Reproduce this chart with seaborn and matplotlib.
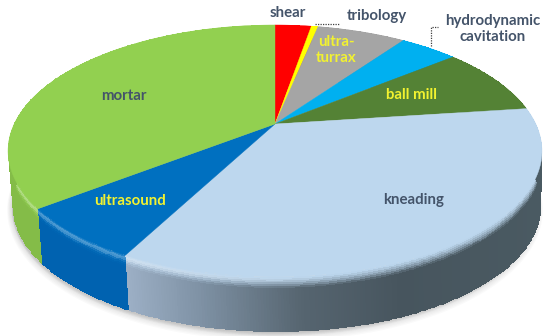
import numpy as np
import seaborn as sns
import matplotlib
matplotlib.use('Agg')
import matplotlib.pyplot as plt
from matplotlib.path import Path
from matplotlib.transforms import Transform
from matplotlib.colors import to_rgb

# Share of each method (%), clockwise from the top
methods = ['shear', 'tribology', 'ultra-turrax', 'hydrodynamic cavitation',
           'ball mill', 'kneading', 'ultrasound', 'mortar']
shares = [2.7, 0.5, 6.6, 4.3, 8.8, 34.8, 6.8, 35.5]
face_colors = ['#ff0000', '#ffff00', '#a5a5a5', '#00b0f0',
               '#548235', '#bdd7ee', '#0070c0', '#92d050']
side_colors = ['#cc0000', '#cccc00', '#808080', '#008cc0',
               '#43682a', '#4a5a64', '#0062b0', '#84bc48']

# Shading along the kneading slice side, left to right
kneading_x = [124, 200, 300, 400, 541]
kneading_side = ['#9db0c6', '#7e91a4', '#566570', '#47555e', '#4a5a62']

# Pie geometry in picture pixels
CX, CY = 275, 124
A, B, K = 260.8, 120.2, 0.214
DEPTH = 55


def project(x, y):
    w = 1 + K * y
    return CX + A * x / w, CY - B * y / w


class Perspective(Transform):
    input_dims = output_dims = 2

    def transform_non_affine(self, values):
        values = np.asarray(values)
        return np.column_stack(project(values[:, 0], values[:, 1]))

    def transform_path_non_affine(self, path):
        points = []
        for curve, code in path.iter_bezier():
            points.append(curve(np.linspace(0, 1, 24)))
        return Path(self.transform_non_affine(np.vstack(points)))


def side_mesh(ax, theta1, theta2, face, side, gradient=False):
    n = max(int((theta2 - theta1) * 2), 2)
    ang = np.radians(np.linspace(theta1, theta2, n + 1))
    depth = np.linspace(0, 1, 31)
    X0, Y0 = project(np.cos(ang), np.sin(ang))
    X = CX + np.outer(1 - 0.01 * depth, X0 - CX) + 2 * depth[:, None]
    Y = np.add.outer(DEPTH * depth, Y0)

    xmid = (X[0, :-1] + X[0, 1:]) / 2
    tmid = (depth[:-1] + depth[1:]) / 2
    if gradient:
        stops = np.array([to_rgb(c) for c in kneading_side])
        base = np.column_stack([np.interp(xmid, kneading_x, stops[:, i]) for i in range(3)])
    else:
        base = np.tile(to_rgb(side), (n, 1))
    top = np.array(to_rgb(face))
    blend = np.clip(tmid / 0.2, 0, 1) ** 1.5
    # bright bevel on the lit (left) part of the rim
    lit = np.clip((330 - xmid) / 200, 0, 1)[:, None]
    rgb = np.zeros((len(tmid), n, 3))
    for i, b in enumerate(blend):
        glow = 0.3 * np.exp(-((tmid[i] - 0.06) / 0.05) ** 2)
        rgb[i] = top * (1 - b) + base * b
        rgb[i] = rgb[i] + (1 - rgb[i]) * glow * lit
    ax.pcolormesh(X, Y, rgb, shading='flat', linewidth=0, zorder=2)


sns.set_theme(style='white')
plt.rcParams['font.family'] = ['Lato', 'DejaVu Sans']

fig, ax = plt.subplots(figsize=(5.5, 3.36), dpi=100)
fig.subplots_adjust(left=0, right=1, top=1, bottom=0)

palette = sns.color_palette(face_colors)
wedges, _ = ax.pie(shares, colors=palette, startangle=90, counterclock=False,
                   wedgeprops={'linewidth': 0.3})
ax.set_aspect('auto')
ax.set_xlim(0, 550)
ax.set_ylim(336, 0)
ax.axis('off')

persp = Perspective()
for w, color in zip(wedges, palette):
    w.set_transform(persp + ax.transData)
    w.set_edgecolor(color)
    w.set_zorder(3)

# soft shadow under the disc
ang = np.radians(np.linspace(0, 360, 361))
sx, sy = project(np.cos(ang), np.sin(ang))
for grow in np.linspace(7, 1, 7):
    ax.fill(CX + (sx - CX) * 0.985, sy + DEPTH + grow * 0.6, color='#808080',
            alpha=0.04, lw=grow, zorder=1)

for w, name, face, side in zip(wedges, methods, face_colors, side_colors):
    side_mesh(ax, w.theta1, w.theta2, face, side, gradient=name == 'kneading')

DARK = '#44546a'
YELLOW = '#f2f230'
label_style = {'ha': 'center', 'va': 'center', 'fontsize': 10.8, 'fontweight': 'bold', 'zorder': 5}
ax.text(288, 13, 'shear', color=DARK, **label_style)
ax.text(377, 16, 'tribology', color=DARK, **label_style)
ax.text(493, 29, 'hydrodynamic\ncavitation', color=DARK, linespacing=1.1, **label_style)
ax.text(336, 50, 'ultra-\nturrax', color=YELLOW, linespacing=1.1, **label_style)
ax.text(411, 95, 'ball mill', color=YELLOW, **label_style)
ax.text(124, 96, 'mortar', color=DARK, **label_style)
ax.text(130, 201, 'ultrasound', color=YELLOW, **label_style)
ax.text(414, 200, 'kneading', color=DARK, **label_style)

# leader lines
ax.plot([315, 340], [24, 24], color='#404040', lw=0.9, ls=(0, (1, 1)), zorder=5)
ax.plot([431, 431, 438], [46, 27, 27], color='#404040', lw=0.9, ls=(0, (1, 1)), zorder=5)

fig.savefig('out.png', dpi=100)
